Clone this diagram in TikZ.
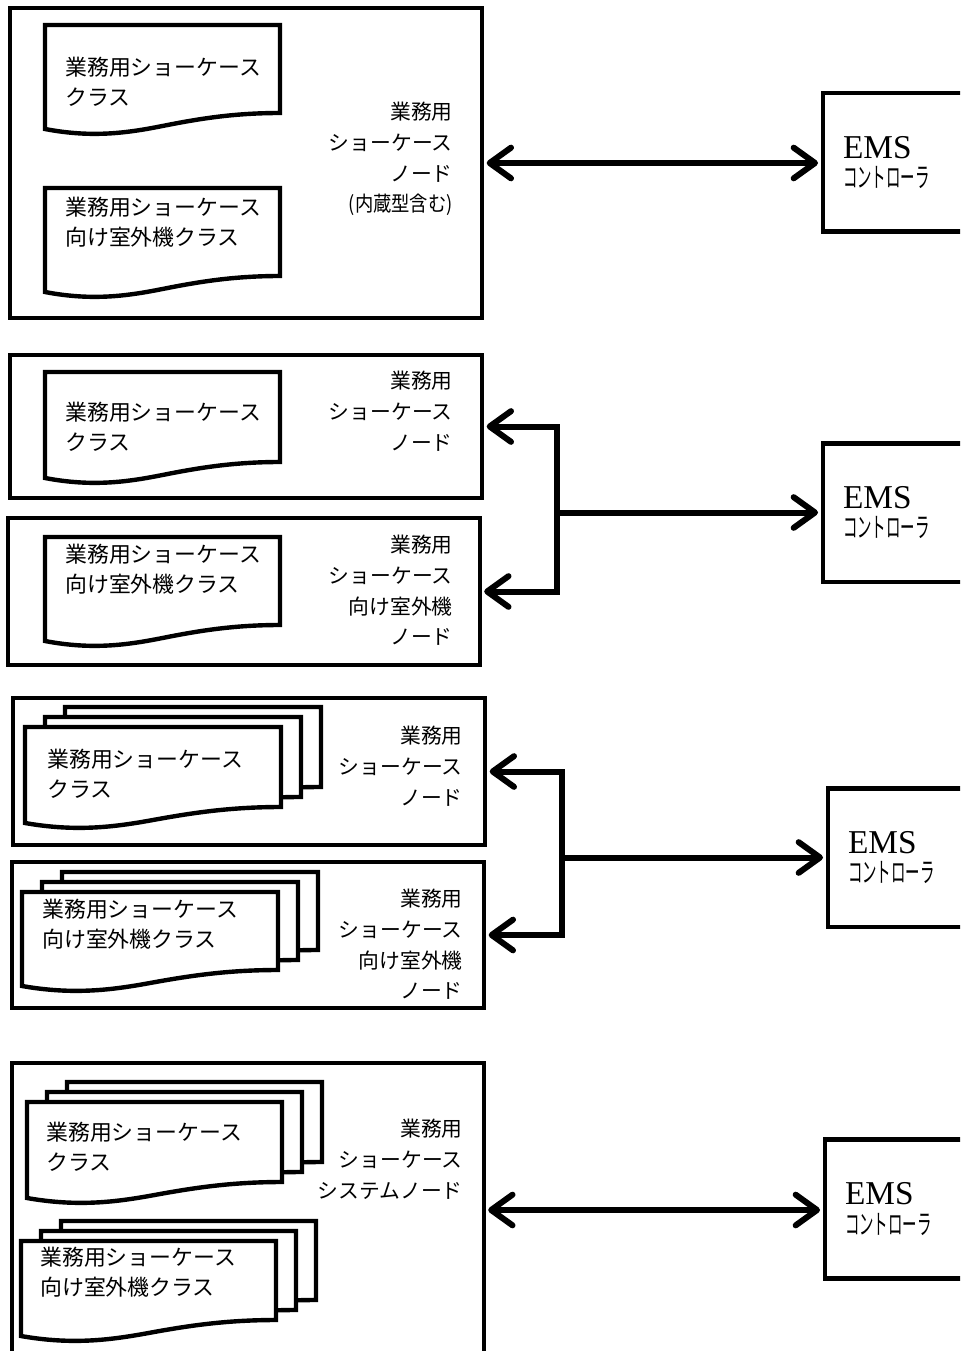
\documentclass[tikz,border=0pt]{standalone}
\usepackage{fontspec}
\usepackage{graphicx}
\newfontfamily\jp{Noto Sans CJK JP}
\newfontfamily\emsfont{Liberation Serif}
\usetikzlibrary{arrows.meta}

\tikzset{
  panel/.style={draw, line width=3pt, minimum width=354pt, inner sep=0pt},
  sheetline/.style={draw, fill=white, line width=3.3pt},
  sheettext/.style={anchor=north west, inner sep=0pt, align=left, font=\jp\fontsize{16.4}{22.5}\selectfont},
  nodetext/.style={anchor=north east, inner sep=0pt, align=right, font=\jp\fontsize{15.6}{23}\selectfont},
  emsbox/.style={draw, line width=3.5pt, minimum width=120pt, text width=90pt, inner xsep=15pt,
    minimum height=104pt, align=left, font=\jp\fontsize{16.4}{22}\selectfont},
  link/.style={line width=4.5pt, shorten <=2pt, shorten >=2pt,
    >={Straight Barb[length=16pt,width=23pt,round]}}
}

\newcommand{\sheet}[4]{%
  \filldraw[sheetline] (#1,#2) -- (#1+#3,#2) -- (#1+#3,#2+#4)
    .. controls (#1+0.8*#3,#2+#4) and (#1+0.65*#3,#2+#4+6) .. (#1+0.5*#3,#2+#4+13)
    .. controls (#1+0.35*#3,#2+#4+20) and (#1+0.2*#3,#2+#4+25) .. (#1,#2+#4+16) -- cycle;}
\newcommand{\sheetstack}[4]{%
  \sheet{#1+40}{#2-20}{#3}{#4}
  \sheet{#1+20}{#2-10}{#3}{#4}
  \sheet{#1}{#2}{#3}{#4}}
\newcommand{\ems}{{\emsfont\fontsize{25}{25}\selectfont EMS}\\\scalebox{0.66}[1.25]{コントローラ}}

\begin{document}
\begin{tikzpicture}[x=0.75pt,y=-0.75pt]
\useasboundingbox (0,0) rectangle (960,1351);
\clip (0,0) rectangle (960,1351);

\node (n1) [panel, minimum height=232.5pt] at (246,163) {};
\sheet{45}{25}{235}{88}
\sheet{45}{188}{235}{88}
\node (c1a) [sheettext] at (65,57) {業務用ショーケース\\クラス};
\node (c1b) [sheettext] at (65,197) {業務用ショーケース\\向け室外機クラス};
\node (l1) [nodetext] at (453,102) {業務用\\ショーケース\\ノード\\\scalebox{0.88}[1]{(内蔵型含む)}};
\node (ems1) [emsbox] at (903,162.5) {\ems};
\draw[link,<->] (n1.east) -- (n1.east -| ems1.west);

\node (n2a) [panel, minimum height=107.25pt] at (246,426.5) {};
\node (n2b) [panel, minimum height=110.25pt] at (243.5,591.5) {};
\sheet{45}{372}{235}{90}
\sheet{45}{537}{235}{88}
\node (c2a) [sheettext] at (65,402) {業務用ショーケース\\クラス};
\node (c2b) [sheettext] at (65,544) {業務用ショーケース\\向け室外機クラス};
\node (l2a) [nodetext] at (453,371) {業務用\\ショーケース\\ノード};
\node (l2b) [nodetext] at (453,535) {業務用\\ショーケース\\向け室外機\\ノード};
\node (ems2) [emsbox] at (903,512.5) {\ems};
\coordinate (j2) at (557,512.5);
\draw[link,<->] (n2a.east) -| (j2) |- (n2b.east);
\draw[link,->] (j2) -- (ems2.west);

\node (n3a) [panel, minimum height=110.25pt] at (249,771.5) {};
\node (n3b) [panel, minimum height=109.5pt] at (248,935) {};
\sheetstack{25}{727}{256}{80}
\sheetstack{22}{892}{256}{78}
\node (c3a) [sheettext] at (47,749) {業務用ショーケース\\クラス};
\node (c3b) [sheettext] at (42,899) {業務用ショーケース\\向け室外機クラス};
\node (l3a) [nodetext] at (463,726) {業務用\\ショーケース\\ノード};
\node (l3b) [nodetext] at (463,889) {業務用\\ショーケース\\向け室外機\\ノード};
\node (ems3) [emsbox] at (908,857.5) {\ems};
\coordinate (j3) at (562,857.5);
\draw[link,<->] (n3a.east) -| (j3) |- (n3b.east);
\draw[link,->] (j3) -- (ems3.west);

\node (n4) [panel, minimum height=220.5pt] at (247.5,1210) {};
\sheetstack{27}{1102}{255}{80}
\sheetstack{21}{1241}{255}{79}
\node (c4a) [sheettext] at (46,1122) {業務用ショーケース\\クラス};
\node (c4b) [sheettext] at (40,1247) {業務用ショーケース\\向け室外機クラス};
\node (l4) [nodetext] at (463,1119) {業務用\\ショーケース\\システムノード};
\node (ems4) [emsbox] at (905,1209) {\ems};
\draw[link,<->] (n4.east) -- (n4.east -| ems4.west);
\end{tikzpicture}
\end{document}
